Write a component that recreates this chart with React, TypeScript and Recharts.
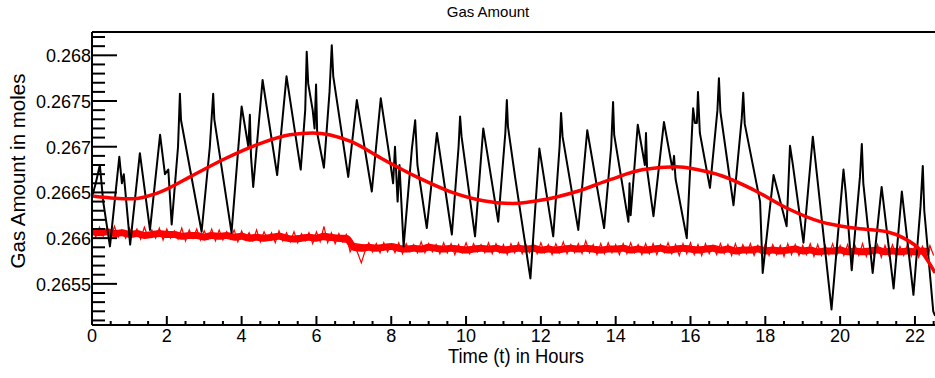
import React from "react";
import { LineChart, Line, XAxis, YAxis, ReferenceLine, Customized } from "recharts";

// ---- black trace: gas amount (hours, moles) ----
const blackT = [
  0.0, 0.1, 0.21, 0.3, 0.48, 0.73, 0.8, 0.85, 1.02, 1.28, 1.55, 1.82, 1.95, 2.04, 2.13, 2.3, 2.35, 2.38,
  2.93, 3.15, 3.24, 3.27, 3.73, 4.0, 4.18, 4.22, 4.25, 4.31, 4.56, 4.95, 5.2, 5.58, 5.7, 5.74, 5.78, 5.9,
  5.95, 5.99, 6.02, 6.2, 6.35, 6.41, 6.45, 6.85, 7.08, 7.48, 7.72, 7.95, 8.05, 8.1, 8.17, 8.22, 8.33,
  8.55, 8.64, 8.7, 8.95, 9.22, 9.62, 9.8, 9.84, 9.88, 10.24, 10.46, 10.86, 11.05, 11.09, 11.12, 11.31,
  11.72, 11.96, 12.33, 12.5, 12.54, 12.58, 13.0, 13.24, 13.69, 13.88, 13.93, 13.96, 14.34, 14.37, 14.4,
  14.59, 14.78, 14.81, 14.84, 15.01, 15.29, 15.52, 15.56, 15.6, 15.9, 16.07, 16.12, 16.17, 16.2, 16.25,
  16.52, 16.72, 16.76, 16.8, 17.15, 17.37, 17.41, 17.45, 17.86, 17.93, 18.22, 18.57, 18.66, 18.73,
  19.02, 19.27, 19.77, 20.09, 20.15, 20.31, 20.53, 20.58, 20.62, 20.87, 21.11, 21.43, 21.65, 21.96,
  22.15, 22.21, 22.25, 22.49, 22.54,
];
const blackV = [
  0.26645, 0.2666, 0.2668, 0.2664, 0.26591, 0.26689, 0.2666, 0.2667, 0.26593, 0.26693, 0.26609, 0.26713,
  0.2667, 0.26675, 0.26615, 0.267, 0.26758, 0.26729, 0.26607, 0.267, 0.26758, 0.2673, 0.26606, 0.26744,
  0.267, 0.26735, 0.2669, 0.26656, 0.26773, 0.26669, 0.26777, 0.26675, 0.2674, 0.26804, 0.26769, 0.2674,
  0.2672, 0.26768, 0.26715, 0.26677, 0.2676, 0.26811, 0.26777, 0.26667, 0.26751, 0.26651, 0.26753,
  0.2669, 0.2666, 0.267, 0.2664, 0.2668, 0.26591, 0.26697, 0.26729, 0.2668, 0.26611, 0.26715, 0.26604,
  0.267, 0.26733, 0.26711, 0.26602, 0.2672, 0.26618, 0.26715, 0.26751, 0.26722, 0.26667, 0.26556,
  0.26698, 0.26602, 0.267, 0.26737, 0.26711, 0.26609, 0.26718, 0.26611, 0.267, 0.26749, 0.26713,
  0.26618, 0.2666, 0.26625, 0.26724, 0.2668, 0.26715, 0.26675, 0.26624, 0.26727, 0.26675, 0.2669,
  0.26665, 0.266, 0.26742, 0.26726, 0.26726, 0.2676, 0.26715, 0.26655, 0.2674, 0.26775, 0.26738,
  0.26636, 0.26731, 0.26759, 0.26725, 0.2664, 0.26562, 0.26669, 0.26613, 0.26701, 0.26682, 0.26595,
  0.26711, 0.26522, 0.26675, 0.2665, 0.26565, 0.26667, 0.26703, 0.2666, 0.26562, 0.26656, 0.26545,
  0.26651, 0.26538, 0.26635, 0.26679, 0.2663, 0.2652, 0.26515,
];

// ---- red smooth fit ----
const fitT = [
  0.0, 0.5, 1.1, 1.73, 2.62, 3.51, 4.4, 5.29, 5.9, 6.9, 7.79, 8.68, 9.57, 10.46, 11.25, 12.07, 12.96,
  13.85, 14.74, 15.63, 16.17, 16.85, 17.68, 18.57, 19.47, 20.36, 21.25, 21.7, 22.14, 22.54,
];
const fitV = [
  0.26646, 0.26644, 0.26643, 0.26649, 0.26667, 0.26686, 0.26702, 0.26713, 0.26715, 0.26706, 0.26686,
  0.26667, 0.26651, 0.26641, 0.26638, 0.26642, 0.26651, 0.26664, 0.26675, 0.26678, 0.26675, 0.26668,
  0.26653, 0.26633, 0.26618, 0.26611, 0.26607, 0.266, 0.26587, 0.26562,
];

// ---- red noisy reference trace: slow level, sampled every 0.2 h ----
const refStep = 0.2;
const refV = [
  0.26607, 0.26606, 0.26607, 0.26605, 0.26606, 0.26604, 0.26605, 0.26603, 0.26604, 0.26605,
  0.26604, 0.26604, 0.26602, 0.26603, 0.26603, 0.26601, 0.26603, 0.26602, 0.26603, 0.26601,
  0.26602, 0.26600, 0.26601, 0.26600, 0.26601, 0.26602, 0.26600, 0.26599, 0.26600, 0.26601,
  0.26600, 0.26602, 0.26601, 0.26600, 0.26600,
  0.26590, 0.26589, 0.26590, 0.26589, 0.26590, 0.26591, 0.26589, 0.26588, 0.26589, 0.26588,
  0.26590, 0.26589, 0.26588, 0.26589, 0.26588, 0.26587, 0.26588, 0.26589, 0.26588, 0.26589,
  0.26587, 0.26588, 0.26589, 0.26588, 0.26589, 0.26587, 0.26588, 0.26587, 0.26588, 0.26589,
  0.26588, 0.26589, 0.26588, 0.26587, 0.26588, 0.26588, 0.26589, 0.26587, 0.26588, 0.26587,
  0.26588, 0.26589, 0.26587, 0.26588, 0.26589, 0.26588, 0.26587, 0.26588, 0.26589, 0.26587,
  0.26588, 0.26586, 0.26587, 0.26587, 0.26588, 0.26586, 0.26587, 0.26586, 0.26587, 0.26588,
  0.26586, 0.26587, 0.26585, 0.26586, 0.26586, 0.26587, 0.26585, 0.26586, 0.26585, 0.26586,
  0.26587, 0.26585, 0.26586, 0.26585, 0.26586, 0.26585, 0.26586, 0.26585,
];

// ---- red noisy reference trace: fast fluctuation, sampled every 0.1 h ----
const fuzzStep = 0.1;
const fuzzV = [
  0.26611, 0.26601, 0.26612, 0.26602, 0.2661, 0.266, 0.26613, 0.26601, 0.26609, 0.266,
  0.26611, 0.26602, 0.2661, 0.26599, 0.26612, 0.26601, 0.26609, 0.266, 0.26611, 0.26598,
  0.2661, 0.266, 0.26608, 0.26599, 0.26611, 0.26597, 0.26609, 0.266, 0.2661, 0.26598,
  0.26608, 0.26599, 0.2661, 0.26597, 0.26609, 0.26598, 0.26607, 0.26599, 0.26609, 0.26596,
  0.26608, 0.26598, 0.26606, 0.26597, 0.26609, 0.26596, 0.26607, 0.26598, 0.26606, 0.26595,
  0.26608, 0.26597, 0.26606, 0.26596, 0.26607, 0.26595, 0.26605, 0.26597, 0.26606, 0.26594,
  0.26607, 0.26596, 0.26613, 0.26595, 0.26606, 0.26594, 0.26605, 0.26596, 0.26604,
  0.26585, 0.26594, 0.26584, 0.26573, 0.26586, 0.26595, 0.26585, 0.26594, 0.26584, 0.26595,
  0.26585, 0.26593, 0.26584, 0.26595, 0.26583, 0.26594, 0.26585, 0.26593, 0.26584, 0.26596,
  0.26584, 0.26594, 0.26585, 0.26593, 0.26583, 0.26595, 0.26584, 0.26594, 0.26582, 0.26593,
  0.26584, 0.26595, 0.26583, 0.26594, 0.26585, 0.26593, 0.26584, 0.26595, 0.26583, 0.26594,
  0.26584, 0.26593, 0.26582, 0.26594, 0.26584, 0.26595, 0.26583, 0.26593, 0.26584, 0.26594,
  0.26583, 0.26595, 0.26584, 0.26593, 0.26582, 0.26594, 0.26584, 0.26596, 0.26583, 0.26593,
  0.26584, 0.26594, 0.26583, 0.26597, 0.26584, 0.26593, 0.26582, 0.26594, 0.26583, 0.26595,
  0.26584, 0.26593, 0.26582, 0.26594, 0.26583, 0.26595, 0.26584, 0.26593, 0.26582, 0.26594,
  0.26583, 0.26594, 0.26582, 0.26593, 0.26584, 0.26595, 0.26583, 0.26593, 0.26581, 0.26594,
  0.26583, 0.26595, 0.26582, 0.26593, 0.26581, 0.26594, 0.26583, 0.26592, 0.26582, 0.26594,
  0.26583, 0.26593, 0.26581, 0.26594, 0.26582, 0.26593, 0.26583, 0.26594, 0.26581, 0.26592,
  0.26582, 0.26594, 0.26581, 0.26593, 0.26582, 0.26592, 0.2658, 0.26594, 0.26582, 0.26593,
  0.26581, 0.26592, 0.26582, 0.26594, 0.2658, 0.26593, 0.26581, 0.26592, 0.26582, 0.26594,
  0.2658, 0.26592, 0.26581, 0.26593, 0.2658, 0.26592, 0.26581, 0.26594, 0.2658, 0.26592,
  0.26581, 0.26593, 0.26579, 0.26592, 0.26581, 0.26593, 0.2658, 0.26591, 0.26581, 0.26593,
  0.2658, 0.26592, 0.26579, 0.26591, 0.2658, 0.26592, 0.26581,
];

// thin overlapping segment around the step
const overlapT = [5.56, 6.6, 7.6];
const overlapV = [0.26601, 0.26597, 0.2659];

// ---- axes ----
const X_MAX = 22.67;
const Y_MIN = 0.26505;
const Y_MAX = 0.268255;
const xMajor = [0, 2, 4, 6, 8, 10, 12, 14, 16, 18, 20, 22];
const xLabels = ["0", "2", "4", "6", "8", "10", "12", "14", "16", "18", "20", "22"];
const xMinor = [0.5, 1, 1.5, 2.5, 3, 3.5, 4.5, 5, 5.5, 6.5, 7, 7.5, 8.5, 9, 9.5, 10.5, 11, 11.5, 12.5, 13, 13.5,
  14.5, 15, 15.5, 16.5, 17, 17.5, 18.5, 19, 19.5, 20.5, 21, 21.5, 22.5];
const yMajor = [0.2655, 0.266, 0.2665, 0.267, 0.2675, 0.268];
const yLabels = ["0.2655", "0.266", "0.2665", "0.267", "0.2675", "0.268"];
const yMinor = [0.2651, 0.2652, 0.2653, 0.2654, 0.2656, 0.2657, 0.2658, 0.2659, 0.2661, 0.2662, 0.2663,
  0.2664, 0.2666, 0.2667, 0.2668, 0.2669, 0.2671, 0.2672, 0.2673, 0.2674, 0.2676, 0.2677, 0.2678, 0.2679,
  0.2681, 0.2682];

const FONT = "'Liberation Sans', Arial, Helvetica, sans-serif";

const blackData = blackT.map((t, i) => ({ t, v: blackV[i] }));
const fitData = fitT.map((t, i) => ({ t, v: fitV[i] }));
const refData = refV.map((v, i) => ({ t: +(i * refStep).toFixed(2), v }));
const fuzzData = fuzzV.map((v, i) => ({ t: +(i * fuzzStep).toFixed(2), v }));
const overlapData = overlapT.map((t, i) => ({ t, v: overlapV[i] }));

const majorIndex = (list: number[], v: number) => list.findIndex((m) => Math.abs(m - v) < 1e-7);

const YTick = (props: any) => {
  const { x, y, payload } = props;
  const k = majorIndex(yMajor, payload.value);
  return (
    <g>
      <line x1={x} y1={y} x2={x + (k >= 0 ? 25 : 13)} y2={y} stroke="#000" strokeWidth={2} />
      {k >= 0 && (
        <text x={x - 1} y={y + 7} textAnchor="end" fontSize={18} fontFamily={FONT} fill="#000">
          {yLabels[k]}
        </text>
      )}
    </g>
  );
};

const XTick = (props: any) => {
  const { x, y, payload } = props;
  const k = majorIndex(xMajor, payload.value);
  return (
    <g>
      <line x1={x} y1={y} x2={x} y2={y - (k >= 0 ? 9 : 4)} stroke="#000" strokeWidth={2} />
      {k >= 0 && (
        <text x={x} y={y + 17} textAnchor="middle" fontSize={18} fontFamily={FONT} fill="#000">
          {xLabels[k]}
        </text>
      )}
    </g>
  );
};

const Titles = () => (
  <g fontFamily={FONT} fill="#000">
    <text x={488} y={17} textAnchor="middle" fontSize={15}>Gas Amount</text>
    <text x={584} y={363} textAnchor="end" fontSize={20} textLength={136} lengthAdjust="spacingAndGlyphs">
      Time (t) in Hours
    </text>
    <text x={0} y={0} transform="translate(25,171) rotate(-90)" textAnchor="middle" fontSize={20.5}>
      Gas Amount in moles
    </text>
  </g>
);

export default function App() {
  return (
    <div style={{ position: "absolute", left: 0, top: 0, width: 935, height: 378, overflow: "hidden", background: "#fff" }}>
      <LineChart width={940} height={378} margin={{ top: 32, right: 0, left: 32, bottom: 23 }}>
        <XAxis
          type="number"
          dataKey="t"
          domain={[0, X_MAX]}
          allowDataOverflow
          ticks={[...xMajor, ...xMinor].sort((a, b) => a - b)}
          interval={0}
          tick={<XTick />}
          tickLine={false}
          tickSize={0}
          tickMargin={0}
          height={30}
          axisLine={{ stroke: "#000", strokeWidth: 2 }}
        />
        <YAxis
          type="number"
          dataKey="v"
          domain={[Y_MIN, Y_MAX]}
          allowDataOverflow
          ticks={[...yMajor, ...yMinor].sort((a, b) => a - b)}
          interval={0}
          tick={<YTick />}
          tickLine={false}
          tickSize={0}
          tickMargin={0}
          width={60}
          axisLine={{ stroke: "#000", strokeWidth: 2 }}
        />
        <ReferenceLine y={Y_MAX} stroke="#000" strokeWidth={2} ifOverflow="visible" />
        <Line data={refData} dataKey="v" stroke="#ff0000" strokeWidth={7} strokeLinejoin="round" dot={false} isAnimationActive={false} type="monotone" />
        <Line data={fuzzData} dataKey="v" stroke="#ff0000" strokeWidth={1.2} dot={false} isAnimationActive={false} type="linear" />
        <Line data={overlapData} dataKey="v" stroke="#ff0000" strokeWidth={1.5} dot={false} isAnimationActive={false} type="linear" />
        <Line data={blackData} dataKey="v" stroke="#000" strokeWidth={2} strokeLinejoin="round" dot={false} isAnimationActive={false} type="linear" />
        <Line data={fitData} dataKey="v" stroke="#ff0000" strokeWidth={3.5} dot={false} isAnimationActive={false} type="monotone" />
        <Customized component={Titles} />
      </LineChart>
    </div>
  );
}
